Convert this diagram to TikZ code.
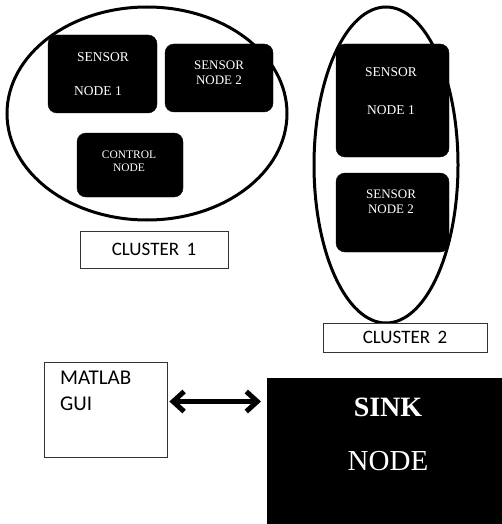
\documentclass[tikz,border=0pt]{standalone}
\usepackage{fontspec}
\setmainfont{Liberation Serif}
\newfontfamily\calib{Carlito}
\usetikzlibrary{arrows.meta,shapes.geometric}
\begin{document}
\begin{tikzpicture}[x=1pt,y=-1pt,
  blk/.style={draw=black,fill=black,rounded corners=9pt,inner sep=0pt},
  wt/.style={text=white,font=\fontsize{13.5}{15}\selectfont,align=center,inner sep=0pt},
  clus/.style={draw=black,line width=3pt},
  lbl/.style={draw=black!80,line width=0.8pt,fill=white,inner sep=0pt,font=\calib\fontsize{19}{22}\selectfont}]
\useasboundingbox (0,0) rectangle (502,524);
\fill[white] (0,0) rectangle (502,524);
% cluster 1
\node[blk,minimum width=109pt,minimum height=78pt] (s11) at (102.5,74) {};
\node[blk,minimum width=108pt,minimum height=68pt] (s12) at (219,78) {};
\node[blk,minimum width=106pt,minimum height=64pt] (c1) at (130,165) {};
\node[wt] (s11a) at (103,57) {SENSOR};
\node[wt] (s11b) at (98,91) {NODE 1};
\node[wt,font=\fontsize{13}{15}\selectfont] (s12a) at (219,73) {SENSOR\\NODE 2};
\node[wt,font=\fontsize{11.5}{13.5}\selectfont] (c1a) at (129,161) {CONTROL\\NODE};
\node[clus,ellipse,minimum width=280pt,minimum height=213pt,inner sep=0pt] (e1) at (147,113.5) {};
\node[lbl,minimum width=148pt,minimum height=37pt] (l1) at (154,249.5) {CLUSTER\, 1};
% cluster 2
\node[blk,minimum width=113pt,minimum height=113pt] (s21) at (392.5,100.5) {};
\node[blk,minimum width=113pt,minimum height=79pt] (s22) at (392.5,212.5) {};
\node[wt] (s21a) at (391,72) {SENSOR};
\node[wt] (s21b) at (391,110) {NODE 1};
\node[wt,font=\fontsize{13}{15}\selectfont] (s22a) at (391,202) {SENSOR\\NODE 2};
\node[clus,ellipse,minimum width=144pt,minimum height=316pt,inner sep=0pt] (e2) at (386,165) {};
\node[lbl,minimum width=164pt,minimum height=29pt] (l2) at (405,337.5) {CLUSTER\, 2};
% bottom
\node[draw=black!80,line width=0.8pt,minimum width=123pt,minimum height=95pt,inner sep=0pt] (gui) at (105.5,409.5) {};
\node[font=\calib\fontsize{21}{24}\selectfont,anchor=north west,align=left,inner sep=0pt] (guit) at (60,371) {MATLAB\\[2pt]GUI};
\node[fill=black,minimum width=240pt,minimum height=150pt,inner sep=0pt,anchor=north west] (sink) at (267,378) {};
\node[text=white,font=\bfseries\fontsize{28}{30}\selectfont,inner sep=0pt] (sinka) at (388,407) {SINK};
\node[text=white,font=\fontsize{29}{30}\selectfont,inner sep=0pt] (sinkb) at (388,461) {NODE};
\draw[line width=5pt,{Straight Barb[length=11pt,width=20pt]}-{Straight Barb[length=11pt,width=20pt]},shorten <=2pt,shorten >=6pt]
  ([yshift=8pt]gui.east) -- ([yshift=8pt]gui.east -| sink.west);
\end{tikzpicture}
\end{document}
